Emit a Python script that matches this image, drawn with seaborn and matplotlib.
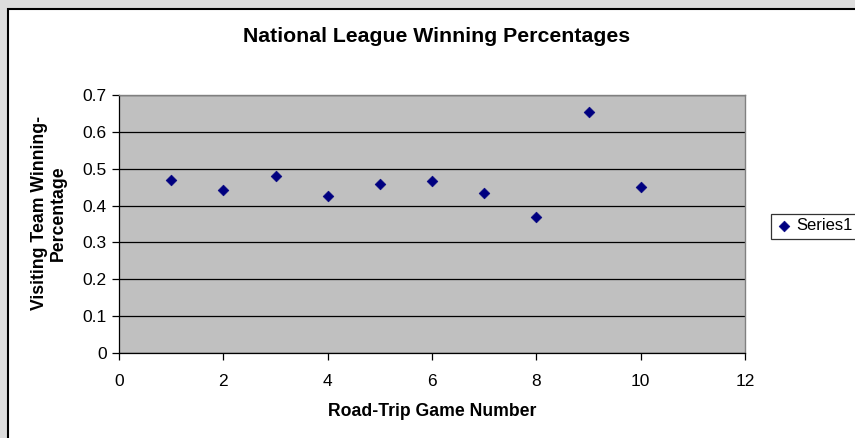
import numpy as np
import pandas as pd
import seaborn as sns
import matplotlib.pyplot as plt
from matplotlib.patches import Rectangle

# values
game_number = [1, 2, 3, 4, 5, 6, 7, 8, 9, 10]
win_pct = [0.470, 0.443, 0.481, 0.425, 0.458, 0.467, 0.434, 0.369, 0.653, 0.451]
x_ticks = [0, 2, 4, 6, 8, 10, 12]
y_ticks = [0, 0.1, 0.2, 0.3, 0.4, 0.5, 0.6, 0.7]
y_tick_labels = ['0', '0.1', '0.2', '0.3', '0.4', '0.5', '0.6', '0.7']


def main():
    sns.set_style('white')
    plt.rcParams['font.family'] = ['Liberation Sans', 'DejaVu Sans']
    plt.rcParams['text.color'] = 'black'
    plt.rcParams['axes.labelcolor'] = 'black'
    plt.rcParams['xtick.color'] = 'black'
    plt.rcParams['ytick.color'] = 'black'

    df = pd.DataFrame({'game': game_number, 'pct': win_pct})

    W, H = 855, 438
    fig = plt.figure(figsize=(W / 100, H / 100), dpi=100)
    fig.patch.set_facecolor('#DDDDDD')
    # white chart area with black border (left/top visible)
    fig.patches.append(Rectangle((8 / W, -0.05), 1.1, 1.05 - 9 / H,
                                 transform=fig.transFigure, facecolor='white',
                                 edgecolor='black', linewidth=1.5, zorder=-5))

    ax = fig.add_axes([119 / W, 1 - 353 / H, (745 - 119) / W, (353 - 95) / H])
    ax.set_zorder(2)
    ax.set_facecolor('#C0C0C0')

    sns.scatterplot(data=df, x='game', y='pct', marker='D', color='#000080',
                    edgecolor='#000080', s=30, label='Series1', ax=ax, zorder=3)

    ax.set_xlim(0, 12)
    ax.set_ylim(0, 0.7)
    ax.set_xticks(x_ticks)
    ax.set_xticklabels([str(t) for t in x_ticks])
    ax.set_yticks(y_ticks)
    ax.set_yticklabels(y_tick_labels)
    ax.yaxis.grid(True, color='black', linewidth=0.9)
    ax.set_axisbelow(True)
    ax.tick_params(axis='both', direction='out', length=5, width=0.9,
                   color='black', labelsize=12.5, left=True, bottom=True)
    ax.tick_params(axis='x', pad=10)
    ax.tick_params(axis='y', pad=4)

    for side in ['left', 'bottom']:
        ax.spines[side].set_color('black')
        ax.spines[side].set_linewidth(0.9)
    for side in ['top', 'right']:
        ax.spines[side].set_color('#808080')
        ax.spines[side].set_linewidth(1.0)

    ax.set_xlabel('Road-Trip Game Number', fontsize=12.7, fontweight='bold')
    ax.xaxis.set_label_coords((432 - 119) / 626, -(412 - 353) / 258)
    ax.set_ylabel('Visiting Team Winning-\nPercentage', fontsize=12.7,
                  fontweight='bold', linespacing=1.2)
    ax.yaxis.set_label_coords((49 - 119) / 626, (353 - 213) / 258)
    ax.yaxis.label.set_va('center')
    ax.xaxis.label.set_va('center')
    fig.text(437 / W, 1 - 37 / H, 'National League Winning Percentages',
             ha='center', va='center', fontsize=15.3, fontweight='bold')

    ax.legend_.remove()
    handles, labels = ax.get_legend_handles_labels()
    leg = fig.legend(handles, labels, loc='center left',
                     bbox_to_anchor=(771 / W, 1 - 226 / H), fontsize=12,
                     frameon=True, fancybox=False, edgecolor='black',
                     handletextpad=0.2, handlelength=1.0, borderpad=0.3,
                     borderaxespad=0)
    leg.get_frame().set_linewidth(0.9)

    fig.savefig('out.png', dpi=100, facecolor=fig.get_facecolor())


if __name__ == '__main__':
    main()
